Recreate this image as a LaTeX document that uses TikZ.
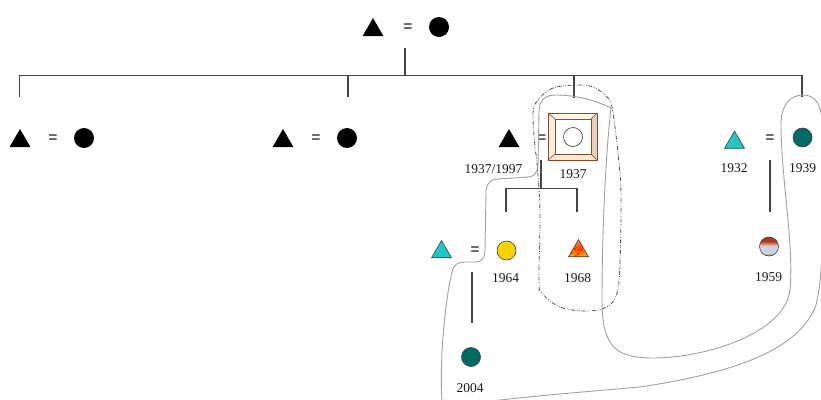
\documentclass[tikz,border=0pt]{standalone}
\usepackage{fontspec}
\usetikzlibrary{shapes.geometric}
\newfontfamily\yrfam{Liberation Serif}
\newfontfamily\eqfam{Liberation Sans}
\definecolor{kline}{HTML}{454545}
\definecolor{gline}{HTML}{A0A0A0}
\definecolor{dline}{HTML}{505050}
\definecolor{tealA}{HTML}{1FC8C6}
\definecolor{tealD}{HTML}{006A64}
\definecolor{yel}{HTML}{F8D300}
\definecolor{brownF}{HTML}{8B4A20}
\definecolor{eqg}{HTML}{4A4A4A}
\definecolor{rustC}{HTML}{A83A1E}
\definecolor{pinkC}{HTML}{E8C8C8}
\definecolor{blueC}{HTML}{C4D4EC}
\definecolor{orC}{HTML}{E8A040}
\pgfdeclareverticalshading{kinshade}{100bp}{color(0bp)=(orC); color(29bp)=(orC); color(33bp)=(blueC); color(44bp)=(blueC); color(52bp)=(pinkC); color(64bp)=(rustC); color(100bp)=(rustC)}
\begin{document}
\begin{tikzpicture}[x=1pt,y=-1pt,
  tri/.style={regular polygon, regular polygon sides=3, minimum size=24pt, inner sep=0pt, fill=black},
  ttri/.style={regular polygon, regular polygon sides=3, minimum size=23pt, inner sep=0pt, fill=tealA, draw=black!75, line width=0.6pt},
  circ/.style={circle, minimum size=20pt, inner sep=0pt, fill=black},
  ocirc/.style={circle, minimum size=19pt, inner sep=0pt, draw=black!80, line width=0.6pt},
  eqs/.style={font=\eqfam\bfseries\fontsize{15}{15}\selectfont, text=eqg, inner sep=0pt},
  yr/.style={font=\yrfam\fontsize{13.5}{14}\selectfont, text=black!90, inner sep=0pt},
  kin/.style={draw=kline, line width=1.3pt},
  gcurve/.style={draw=gline, line width=0.9pt},
  dd/.style={draw=dline, line width=0.8pt, dash pattern=on 4pt off 1.6pt on 0.8pt off 1.6pt on 0.8pt off 1.6pt}
]
\useasboundingbox (0,0) rectangle (821,399);

% ---------- top couple
\node[tri] (t0) at (373,30) {};
\node[eqs] (e0) at (408,28) {=};
\node[circ] (c0) at (439,27) {};

% ---------- row 2
\node[tri] (t1) at (20,141) {};
\node[eqs] (e1) at (53,139) {=};
\node[circ] (c1) at (84,138) {};

\node[tri] (t2) at (283,141) {};
\node[eqs] (e2) at (316,139) {=};
\node[circ] (c2) at (347,138) {};

\node[tri] (t3) at (509,141) {};
\node[eqs] (e3) at (542,139) {=};
% square frame (woman, 1937)
\node[minimum width=49pt, minimum height=47pt, inner sep=0pt] (sq) at (572.5,136.5) {};
\fill[fill=orange!6!white] (548,113) -- (597,113) -- (591,119) -- (555,119) -- cycle;
\fill[fill=orange!14!white] (548,113) -- (555,119) -- (555,154) -- (548,160) -- cycle;
\fill[fill=brown!35!white] (597,113) -- (597,160) -- (591,154) -- (591,119) -- cycle;
\fill[fill=orange!18!white] (548,160) -- (597,160) -- (591,154) -- (555,154) -- cycle;
\draw[brownF, line width=1pt] (548,113) rectangle (597,160);
\draw[brownF, line width=1pt, fill=white] (555,119) rectangle (591,154);
\draw[brownF, line width=0.6pt] (548,113) -- (555,119) (597,113) -- (591,119) (597,160) -- (591,154) (548,160) -- (555,154);
\node[ocirc, fill=white] (sqc) at (573,137) {};

\node[ttri] (t4) at (734.5,142.5) {};
\node[eqs] (e4) at (770,139) {=};
\node[circ, fill=tealD, draw=black!75, line width=0.6pt, minimum size=19pt] (c4) at (802.5,137.5) {};

% ---------- row 3
\node[ttri] (t5) at (441.5,252) {};
\node[eqs] (e5) at (475,251) {=};
\node[circ, fill=yel, draw=black!75, line width=0.6pt, minimum size=19pt] (c5) at (506.5,250.5) {};
\node[regular polygon, regular polygon sides=3, minimum size=23pt, inner sep=0pt, shade, inner color=red!60!orange, outer color=orange!70!yellow, draw=black!75, line width=0.6pt] (t6) at (578.5,251) {};
\foreach \p in {(572,253),(575,249),(578,254),(581,250),(576,256)}
  \fill[red!80!black] \p circle (0.8pt);
\node[circle, minimum size=19pt, inner sep=0pt, shading=kinshade, draw=black!75, line width=0.6pt] (c6) at (769,246.5) {};
\node[circ, fill=tealD, draw=black!75, line width=0.6pt, minimum size=19pt] (c7) at (471,357) {};

% ---------- years
\node[yr] (y1) at (493.5,169) {1937/1997};
\node[yr] (y2) at (573,174) {1937};
\node[yr] (y3) at (734,168) {1932};
\node[yr] (y4) at (802.5,168) {1939};
\node[yr] (y5) at (505.5,278) {1964};
\node[yr] (y6) at (577.5,278) {1968};
\node[yr] (y7) at (768.5,277) {1959};
\node[yr] (y8) at (470,388) {2004};

% ---------- kinship lines
\coordinate (d0) at (405,48);
\coordinate (j0) at (405,75.5);
\coordinate (b1) at (19.5,97);
\coordinate (b2) at (348,97);
\coordinate (b3) at (574,98);
\coordinate (b4) at (802,97);
\draw[kin] (d0) -- (j0);
\draw[kin] (b1) -- (b1 |- j0) -- (b4 |- j0) -- (b4);
\draw[kin] (b2) -- (b2 |- j0);
\draw[kin] (b3) -- (b3 |- j0);

\coordinate (d3) at (541,160);
\coordinate (j3) at (541,188.3);
\coordinate (k1) at (506,212);
\coordinate (k2) at (577,212);
\draw[kin] (d3) -- (j3);
\draw[kin] (k1) -- (k1 |- j3) -- (k2 |- j3) -- (k2);

\coordinate (d4) at (770,160);
\coordinate (k4) at (770,212);
\draw[kin] (d4) -- (k4);

\coordinate (d5) at (472,272);
\coordinate (k5) at (472,323);
\draw[kin] (d5) -- (k5);

% ---------- grey curve
\begin{scope}
\clip (0,0) rectangle (821,399);
\draw[gcurve] (443,412) .. controls (438,370) and (445,300) .. (452,272)
  .. controls (454,264) and (458,262) .. (466,262) -- (476,262)
  .. controls (482,262) and (485,258) .. (485,250) -- (486,192)
  .. controls (486,184) and (490,179) .. (498,179) -- (528,177)
  .. controls (534,177) and (538,172) .. (538,165) -- (539,112)
  .. controls (539,100) and (545,95) .. (556,95)
  .. controls (575,95) and (595,100) .. (611,108)
  .. controls (606,150) and (602,230) .. (602,300)
  .. controls (602,350) and (618,358) .. (655,358)
  .. controls (710,357) and (785,332) .. (790,290)
  .. controls (794,245) and (782,185) .. (781,128)
  .. controls (780,103) and (792,95) .. (803,95)
  .. controls (815,95) and (822,103) .. (823,130)
  .. controls (824,200) and (824,275) .. (816,305)
  .. controls (800,348) and (740,372) .. (640,387)
  .. controls (570,393) and (510,398) .. (460,405) -- (443,412);
\end{scope}

% ---------- dash-dot loop
\draw[dd] plot[smooth cycle, tension=0.6] coordinates {(577,85) (553,88) (538,100) (533,113) (535,147) (537,163) (540,213) (539,280) (542,293) (560,307) (587,311) (607,307) (617,293) (620,263) (621,197) (619,163) (613,113) (608,98) (593,87)};
\end{tikzpicture}
\end{document}
